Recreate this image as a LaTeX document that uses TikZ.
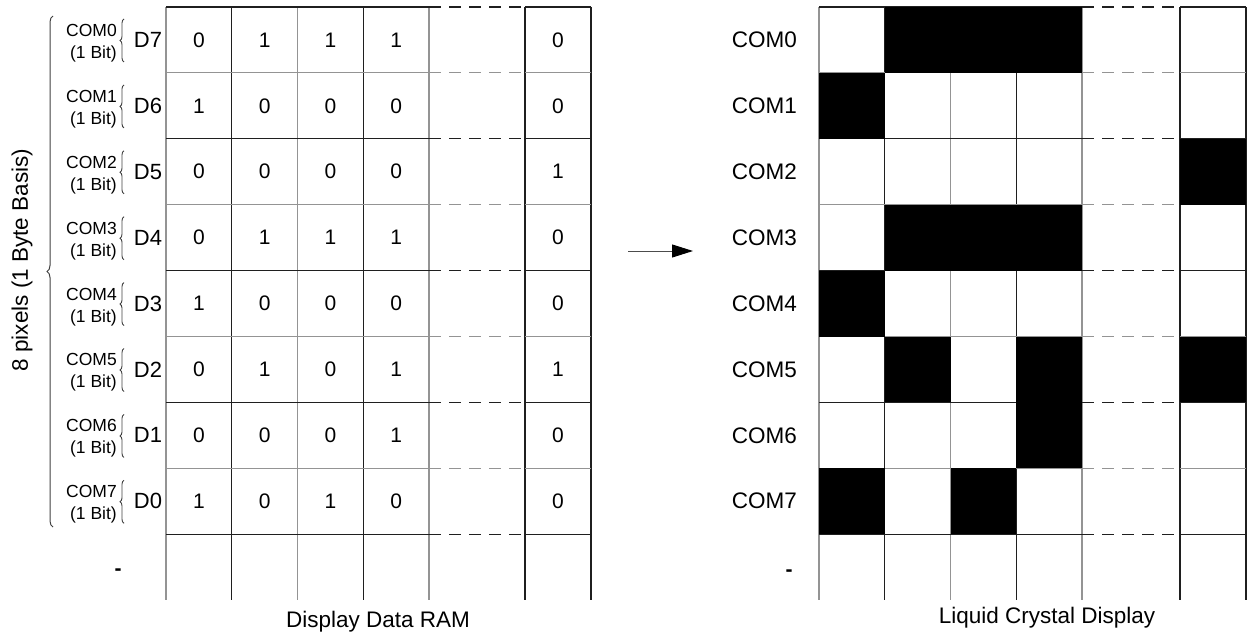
\documentclass[tikz,border=0pt]{standalone}
\usepackage{fontspec}
\setmainfont{Liberation Sans}
\usetikzlibrary{arrows.meta,decorations.pathreplacing}

\definecolor{gridDark}{gray}{0.12}
\definecolor{gridLight}{gray}{0.58}

\tikzset{
  gridline/.style={line width=1.2pt},
  cellnum/.style={font=\fontsize{21}{24}\selectfont, inner sep=0pt},
  comsmall/.style={font=\fontsize{17.5}{20}\selectfont, anchor=east, inner sep=0pt},
  dlabel/.style={font=\fontsize{22}{26}\selectfont, inner sep=0pt},
  comlabel/.style={font=\fontsize{22.5}{26}\selectfont, anchor=east, inner sep=0pt},
  caption/.style={font=\fontsize{22.5}{26}\selectfont, inner sep=0pt},
  blankmark/.style={font=\fontsize{21}{24}\selectfont\bfseries, inner sep=0pt},
  smallbrace/.style={decorate, decoration={brace, amplitude=4pt}, line width=0.9pt, draw=black!75},
  bigbrace/.style={decorate, decoration={brace, amplitude=6pt}, line width=1pt, draw=black!75},
  pixel/.style={fill=black},
}

\begin{document}
\begin{tikzpicture}[x=1pt,y=-1pt]
\useasboundingbox (0,0) rectangle (1247,639);

% ---------- Display Data RAM grid ----------
\foreach \x/\c in {166/gridLight, 231.75/gridDark, 297.5/gridLight, 363.25/gridDark,
                   429/gridLight, 525/gridDark, 591/gridDark}
  \draw[gridline,\c] (\x,7) -- (\x,600);
\foreach \k in {0,...,8}{
  \ifodd\k \def\gc{gridLight}\else\def\gc{gridDark}\fi
  \pgfmathsetmacro\y{7+65.9*\k}
  \draw[gridline,\gc] (166,\y) -- (429,\y);
  \draw[gridline,\gc,dash pattern=on 12pt off 8pt] (429,\y) -- (525,\y);
  \draw[gridline,\gc] (525,\y) -- (591,\y);
}

% bit values, one row per COM line
\foreach \r/\a/\b/\c/\d/\e/\dn in {0/0/1/1/1/0/7, 1/1/0/0/0/0/6, 2/0/0/0/0/1/5, 3/0/1/1/1/0/4,
                                   4/1/0/0/0/0/3, 5/0/1/0/1/1/2, 6/0/0/0/1/0/1, 7/1/0/1/0/0/0}{
  \pgfmathsetmacro\y{7+65.9*(\r+0.5)}
  \node[cellnum] (va\r) at (198.9,\y) {\a};
  \node[cellnum] (vb\r) at (264.6,\y) {\b};
  \node[cellnum] (vc\r) at (330.4,\y) {\c};
  \node[cellnum] (vd\r) at (396.1,\y) {\d};
  \node[cellnum] (ve\r) at (558,\y) {\e};
  \node[dlabel] (bit\r) at (148,\y) {D\dn};
  \node[comsmall] (comL\r) at (117,\y-9.5) {COM\r};
  \node[comsmall] (size\r) at (117,\y+14) {(1 Bit)};
  \pgfmathsetmacro\ya{7+65.9*\r+12}
  \pgfmathsetmacro\yb{7+65.9*\r+55}
  \draw[smallbrace] (124,\yb) -- (124,\ya);
}
\node[blankmark] (dashL) at (118,572) {-};

% byte brace and its label
\draw[bigbrace] (53,527) -- (53,16);
\node[caption, rotate=90] (bytebasis) at (22,260) {8 pixels (1 Byte Basis)};

\node[caption] (ramcap) at (378,622) {Display Data RAM};

% ---------- arrow ----------
\coordinate (arrS) at (628,251);
\coordinate (arrE) at (693,251);
\draw[line width=1pt, draw=black!70, -{Triangle[length=21pt,width=13pt,color=black]}] (arrS) -- (arrE);

% ---------- Liquid Crystal Display grid ----------
\foreach \x/\c in {819/gridLight, 884.75/gridDark, 950.5/gridLight, 1016.25/gridDark,
                   1082/gridLight, 1180/gridDark, 1246/gridDark}
  \draw[gridline,\c] (\x,7) -- (\x,600);
\foreach \k in {0,...,8}{
  \ifodd\k \def\gc{gridLight}\else\def\gc{gridDark}\fi
  \pgfmathsetmacro\y{7+65.9*\k}
  \draw[gridline,\gc] (819,\y) -- (1082,\y);
  \draw[gridline,\gc,dash pattern=on 12pt off 8pt] (1082,\y) -- (1180,\y);
  \draw[gridline,\gc] (1180,\y) -- (1246,\y);
}
% lit pixels, drawn over the grid lines
\foreach \x/\r in {884.75/0, 950.5/0, 1016.25/0, 819/1, 1180/2, 884.75/3, 950.5/3, 1016.25/3,
                   819/4, 884.75/5, 1016.25/5, 1180/5, 1016.25/6, 819/7, 950.5/7}{
  \pgfmathsetmacro\ya{7+65.9*\r}
  \pgfmathsetmacro\yb{7+65.9*(\r+1)}
  \pgfmathsetmacro\xb{\x+65.75}
  \fill[pixel] (\x,\ya) rectangle (\xb,\yb);
}
\foreach \r in {0,...,7}{
  \pgfmathsetmacro\y{7+65.9*(\r+0.5)}
  \node[comlabel] (comR\r) at (797,\y) {COM\r};
}
\node[blankmark] (dashR) at (789,573) {-};

\node[caption] (lcdcap) at (1047,618) {Liquid Crystal Display};
\end{tikzpicture}
\end{document}
